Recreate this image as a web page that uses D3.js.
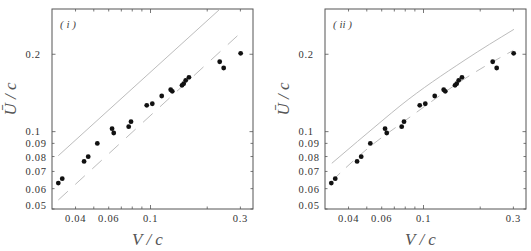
<!DOCTYPE html>
<html>
<head>
<meta charset="utf-8">
<script src="https://cdn.jsdelivr.net/npm/d3@7"></script>
<style>
  body { margin: 0; background: #fff; }
  text { font-family: "Liberation Serif", "Times New Roman", serif; }
</style>
</head>
<body>
<svg width="531" height="251"></svg>
<script>
// measured points (same in both panels)
var vData = [0.0324, 0.0340, 0.0444, 0.0467, 0.0522, 0.0625, 0.0638, 0.0766, 0.0788, 0.0955,
             0.1022, 0.1147, 0.128, 0.1305, 0.147, 0.150, 0.1538, 0.160, 0.233, 0.2446, 0.301];
var uData = [0.0631, 0.0656, 0.0766, 0.0799, 0.0900, 0.1027, 0.0988, 0.1045, 0.1093, 0.1266,
             0.1284, 0.1376, 0.1455, 0.1435, 0.1514, 0.1536, 0.1583, 0.1627, 0.187, 0.1768, 0.2016];

// panel (i) model lines
var solidV1 = [0.0324, 0.234];
var solidU1 = [0.0806, 0.300];
var dashV1 = [0.0324, 0.2985];
var dashU1 = [0.0542, 0.241];

// panel (ii) model curves
var solidV2 = [0.0326, 0.0610, 0.075, 0.166, 0.302];
var solidU2 = [0.0753, 0.111, 0.1258, 0.190, 0.250];
var dashV2 = [0.033, 0.0433, 0.0541, 0.0721, 0.192, 0.2996];
var dashU2 = [0.0648, 0.078, 0.0895, 0.1045, 0.172, 0.207];

var xTicks = [0.04, 0.05, 0.06, 0.07, 0.08, 0.09, 0.1, 0.2, 0.3];
var xLabels = [0.04, 0.06, 0.1, 0.3];
var yTicks = [0.05, 0.06, 0.07, 0.08, 0.09, 0.1, 0.2];
var yLabels = ["0.05", "0.06", "0.07", "0.08", "0.09", "0.1", "0.2"];

var svg = d3.select("svg");
var top_ = 9, bottom = 209;

function panel(left, right, name, sV, sU, dV, dU, dash)
{
  var x = d3.scaleLog().domain([0.03, 0.35]).range([left, right]);
  var y = d3.scaleLog().domain([0.05, 0.3]).range([bottom, top_]);
  var g = svg.append("g");

  // ticks, all pointing inward
  xTicks.forEach(function(v) {
    var L = v === 0.1 ? 4 : 2.5;
    g.append("line").attr("x1", x(v)).attr("x2", x(v)).attr("y1", bottom).attr("y2", bottom - L)
      .attr("stroke", "#555").attr("stroke-width", 0.8);
    g.append("line").attr("x1", x(v)).attr("x2", x(v)).attr("y1", top_).attr("y2", top_ + L)
      .attr("stroke", "#555").attr("stroke-width", 0.8);
  });
  yTicks.forEach(function(v) {
    var L = (v === 0.1 || v === 0.2) ? 3.5 : 2.5;
    g.append("line").attr("x1", left).attr("x2", left + L).attr("y1", y(v)).attr("y2", y(v))
      .attr("stroke", "#555").attr("stroke-width", 0.8);
    g.append("line").attr("x1", right).attr("x2", right - L).attr("y1", y(v)).attr("y2", y(v))
      .attr("stroke", "#555").attr("stroke-width", 0.8);
  });

  g.append("rect").attr("x", left).attr("y", top_).attr("width", right - left).attr("height", bottom - top_)
    .attr("fill", "none").attr("stroke", "#555").attr("stroke-width", 1);

  // tick labels
  g.selectAll(".xl").data(xLabels).enter().append("text")
    .attr("x", function(d){ return x(d); }).attr("y", 222)
    .attr("text-anchor", "middle").attr("font-size", 10.5).attr("letter-spacing", 0.7).attr("fill", "#333")
    .text(function(d){ return d; });
  g.selectAll(".yl").data(yTicks).enter().append("text")
    .attr("x", left - 26.5)
    .attr("y", function(d){ return y(d) + (d === 0.05 ? 0 : d === 0.1 ? 3 : 4); })
    .attr("font-size", 10.5).attr("letter-spacing", 0.7).attr("fill", "#333")
    .text(function(d, i){ return yLabels[i]; });

  var line = d3.line().x(function(d){ return x(d[0]); }).y(function(d){ return y(d[1]); })
    .curve(d3.curveMonotoneX);

  g.append("path").datum(d3.zip(sV, sU)).attr("d", line)
    .attr("fill", "none").attr("stroke", "#b4b4b4").attr("stroke-width", 0.9);
  g.append("path").datum(d3.zip(dV, dU)).attr("d", line)
    .attr("fill", "none").attr("stroke", "#b4b4b4").attr("stroke-width", 0.9)
    .attr("stroke-dasharray", dash);

  g.selectAll("circle").data(d3.zip(vData, uData)).enter().append("circle")
    .attr("cx", function(d){ return x(d[0]); }).attr("cy", function(d){ return y(d[1]); })
    .attr("r", 2.4).attr("fill", "#111");

  g.append("text").attr("x", left + 8).attr("y", 28)
    .attr("font-size", 11).attr("font-style", "italic").attr("fill", "#444")
    .attr("xml:space", "preserve").text(name);

  g.append("text").attr("x", (left + right) / 2 - 5).attr("y", 245)
    .attr("text-anchor", "middle").attr("font-size", 17).attr("font-style", "italic").attr("fill", "#555")
    .attr("xml:space", "preserve").text("V / c");
  g.append("text")
    .attr("transform", "translate(" + (left - 36) + ",99) rotate(-90)")
    .attr("text-anchor", "middle").attr("font-size", 17).attr("font-style", "italic").attr("fill", "#555")
    .attr("xml:space", "preserve").text("\u016A / c");
}

panel(52, 253, "( i )", solidV1, solidU1, dashV1, dashU1, "13,10");
panel(325, 526, "( ii )", solidV2, solidU2, dashV2, dashU2, "10,8");
</script>
</body>
</html>
